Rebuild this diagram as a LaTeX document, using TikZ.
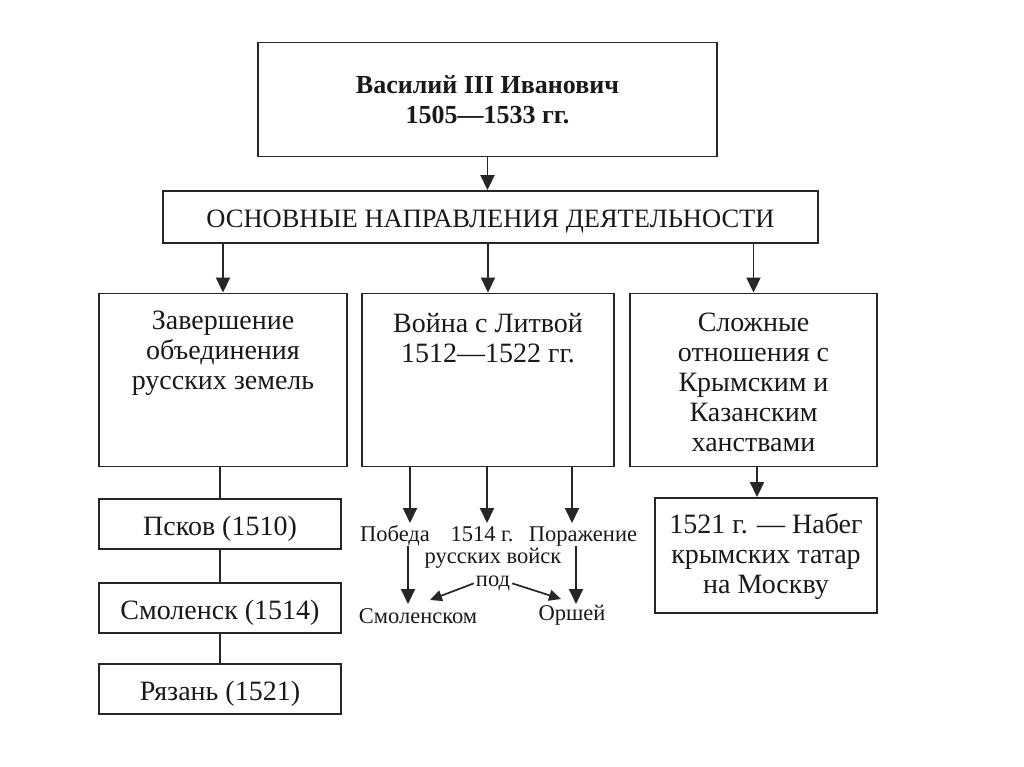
\documentclass[tikz,border=0pt]{standalone}
\usepackage{fontspec}
\setmainfont{Liberation Serif}
\usetikzlibrary{arrows.meta}
\begin{document}
\begin{tikzpicture}[x=1pt,y=-1pt,
 box/.style={draw=black!85, line width=1.9pt, inner sep=0pt},
 arr/.style={draw=black!85, line width=1.9pt, -{Triangle[length=15pt,width=14pt]}},
 sarr/.style={draw=black!85, line width=1.7pt, -{Triangle[length=12pt,width=11pt]}},
 lnk/.style={draw=black!85, line width=1.6pt},
 big/.style={font=\fontsize{28}{30}\selectfont, align=center, inner sep=0pt, text=black!90},
 city/.style={box, minimum width=242pt, minimum height=50pt, font=\fontsize{28}{30}\selectfont,
   text=black!90, text height=23pt, text depth=0pt},
 small/.style={font=\fontsize{22.5}{23}\selectfont, inner sep=0pt, text=black!90},
]
\useasboundingbox[fill=white] (0,0) rectangle (1024,767);

% top
\node[box, minimum width=459pt, minimum height=114pt, align=center,
  font=\bfseries\fontsize{26}{30}\selectfont, text=black!90] (top) at (487.5,99.5)
  {Василий III Иванович\\1505—1533 гг.};
\node[box, minimum width=655pt, minimum height=52pt,
  font=\fontsize{26.5}{28}\selectfont, text=black!90, text height=21pt, text depth=0pt] (hdr) at (490.5,217)
  {ОСНОВНЫЕ НАПРАВЛЕНИЯ ДЕЯТЕЛЬНОСТИ};
\draw[arr] (top.south) -- (top.south |- hdr.north);

% row 3
\node[box, minimum width=248pt, minimum height=173pt] (left) at (223,380) {};
\node[box, minimum width=252pt, minimum height=173pt] (mid) at (488,380) {};
\node[box, minimum width=247pt, minimum height=173pt] (right) at (753.5,380) {};
\node[big] (tleft) at (223,353.5) {Завершение\\объединения\\русских земель};
\node[big] (tmid) at (488,338) {Война с Литвой\\1512—1522 гг.};
\node[big] (tright) at (753.5,382) {Сложные\\отношения с\\Крымским и\\Казанским\\ханствами};
\draw[arr] (hdr.south -| left.north) -- (left.north);
\draw[arr] (hdr.south -| mid.north) -- (mid.north);
\draw[arr] (hdr.south -| right.north) -- (right.north);

% left column
\node[city] (psk) at (220,524) {Псков (1510)};
\node[city] (smk) at (220,608) {Смоленск (1514)};
\node[city] (rzn) at (220,689) {Рязань (1521)};
\draw[lnk] (psk.north |- left.south) -- (psk.north);
\draw[lnk] (psk.south) -- (smk.north);
\draw[lnk] (smk.south) -- (rzn.north);

% right column
\node[box, minimum width=222pt, minimum height=115pt] (raid) at (766,555.5) {};
\node[big] (traid) at (766,556) {1521 г. — Набег\\крымских татар\\на Москву};
\coordinate (rx) at (757,0);
\draw[arr] (right.south -| rx) -- (raid.north -| rx);

% middle column
\node[small, anchor=base] (pob) at (395,541.5) {Победа};
\node[small, anchor=base] (y1514) at (482,541.5) {1514 г.};
\node[small, anchor=base] (por) at (583,541.5) {Поражение};
\node[small, anchor=base] (rv) at (493,563) {русских войск};
\node[small, anchor=base] (pod) at (493,586.5) {под};
\node[small, anchor=base] (sml) at (418,623) {Смоленском};
\node[small, anchor=base] (ors) at (572,620) {Оршей};
\coordinate (m1) at (410,523);
\coordinate (m2) at (487,523);
\coordinate (m3) at (572,523);
\draw[arr] (mid.south -| m1) -- (m1);
\draw[arr] (mid.south -| m2) -- (m2);
\draw[arr] (mid.south -| m3) -- (m3);
\coordinate (p1) at (408,604);
\coordinate (p2) at (576,604);
\draw[arr] (pob.south -| p1) -- (p1);
\draw[arr] (por.south -| p2) -- (p2);
\coordinate (q1) at (430,600);
\coordinate (q2) at (561,599);
\draw[sarr] ([xshift=-2pt]pod.west) -- (q1);
\draw[sarr] ([xshift=2pt]pod.east) -- (q2);
\end{tikzpicture}
\end{document}
